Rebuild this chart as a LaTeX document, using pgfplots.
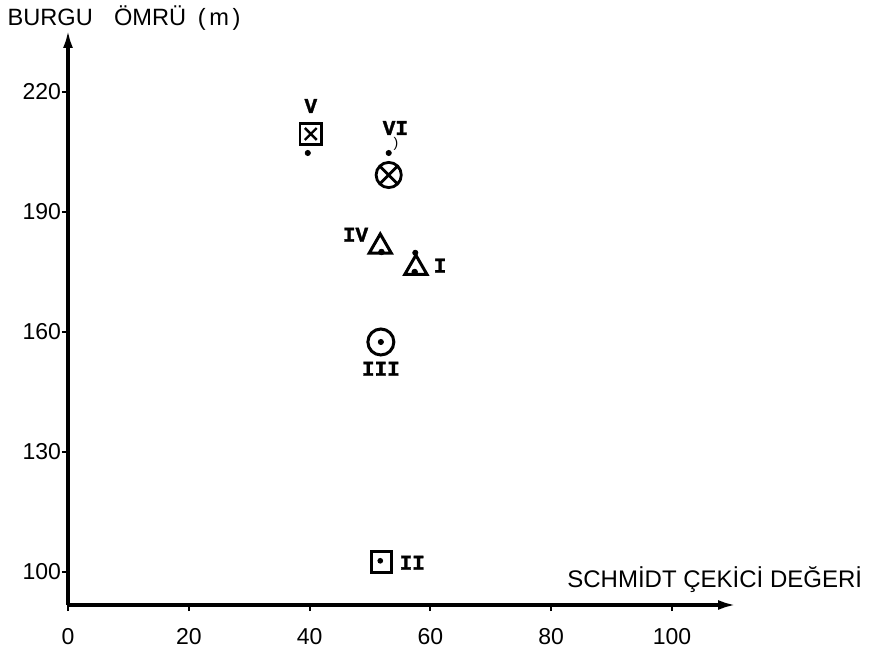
\documentclass[border=0pt]{standalone}
\usepackage{fontspec}
\setmainfont{Liberation Sans}
\newfontfamily\lblfont[BoldFeatures={FakeBold=1.5}]{Liberation Mono}
\usepackage{pgfplots}
\pgfplotsset{compat=1.18}
\usetikzlibrary{arrows.meta,plotmarks}
\begin{document}
\begin{tikzpicture}
\path (0,0) rectangle (435.5pt,326pt);
\begin{axis}[
  at={(34pt,23.5pt)}, anchor=south west,
  scale only axis, width=334pt, height=287.5pt,
  xmin=0, xmax=110.6, ymin=91.75, ymax=235.5,
  axis lines=left,
  axis line style={line width=1.7pt, -{Latex[length=9pt,width=5pt]}},
  xtick={0,20,...,100}, ytick={100,130,...,220},
  tick align=outside, major tick length=3pt,
  tick style={line width=1pt, black},
  /pgf/number format/assume math mode=true,
  ticklabel style={font=\fontsize{11.5}{13}\selectfont},
  xticklabel style={yshift=-5pt},
  yticklabel style={xshift=3pt},
  ylabel={BURGU\hspace{0.9em}ÖMRÜ\hspace{0.5em}(\hspace{0.15em}m\hspace{0.15em})},
  ylabel style={rotate=-90, anchor=west, inner sep=0pt, at={(axis description cs:-0.091,1.021)}, font=\fontsize{11.8}{14}\selectfont},
  xlabel={SCHMİDT ÇEKİCİ DEĞERİ},
  xlabel style={anchor=west, inner sep=0pt, at={(axis description cs:0.747,0.0435)}, font=\fontsize{12}{14}\selectfont},
  clip=false,
]
% V : square with cross
\addplot[only marks, mark=square, mark size=5.4pt, line width=1.4pt] coordinates {(40.2,209.5)};
\addplot[only marks, mark=x, mark size=4.2pt, line width=1.2pt] coordinates {(40.2,209.5)};
\addplot[only marks, mark=*, mark size=1.3pt] coordinates {(39.7,204.75)};
% VI : circle with cross
\addplot[only marks, mark=otimes, mark size=6.3pt, line width=1.4pt] coordinates {(53.1,199.25)};
\addplot[only marks, mark=*, mark size=1.3pt] coordinates {(53.1,204.75)};
% IV : triangle with dot
\addplot[only marks, mark=triangle, mark size=6.4pt, line width=1.5pt] coordinates {(51.7,181.3)};
\addplot[only marks, mark=*, mark size=1.4pt] coordinates {(51.9,180)};
% I : triangle with dot
\addplot[only marks, mark=triangle, mark size=6.4pt, line width=1.5pt] coordinates {(57.6,176)};
\addplot[only marks, mark=*, mark size=1.4pt] coordinates {(57.4,175)};
\addplot[only marks, mark=*, mark size=1.3pt] coordinates {(57.5,179.8)};
% III : circle with dot
\addplot[only marks, mark=o, mark size=6.5pt, line width=1.5pt] coordinates {(51.8,157.5)};
\addplot[only marks, mark=*, mark size=1.3pt] coordinates {(51.8,157.5)};
% II : square with dot
\addplot[only marks, mark=square, mark size=5.2pt, line width=1.5pt] coordinates {(51.9,102.4)};
\addplot[only marks, mark=*, mark size=1.2pt] coordinates {(51.7,102.8)};
% labels
\node[font=\lblfont\bfseries\fontsize{10.5}{12}\selectfont] at (axis cs:40.2,216.5) {V};
\node[font=\lblfont\bfseries\fontsize{10.5}{12}\selectfont] at (axis cs:54.2,211) {VI};
\node[font=\fontsize{7}{8}\selectfont] at (axis cs:54.3,207) {)};
\node[font=\lblfont\bfseries\fontsize{10.5}{12}\selectfont] at (axis cs:47.6,184.3) {IV};
\node[font=\lblfont\bfseries\fontsize{10.5}{12}\selectfont] at (axis cs:61.6,176.6) {I};
\node[font=\lblfont\bfseries\fontsize{10.5}{12}\selectfont] at (axis cs:51.8,150.8) {III};
\node[font=\lblfont\bfseries\fontsize{10.5}{12}\selectfont] at (axis cs:57,102.3) {II};
\end{axis}
\end{tikzpicture}
\end{document}
